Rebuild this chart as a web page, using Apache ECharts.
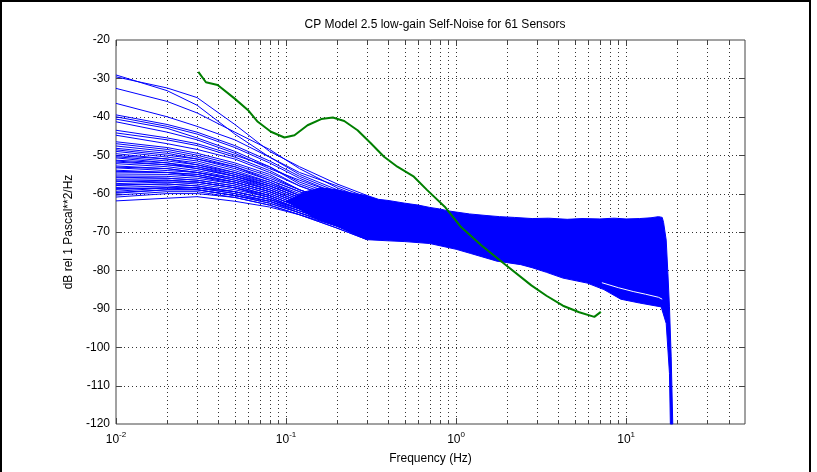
<!DOCTYPE html>
<html><head><meta charset="utf-8">
<script src="https://cdn.jsdelivr.net/npm/echarts@6/dist/echarts.min.js"></script>
<style>html,body{margin:0;padding:0;background:#fff}#c{width:817px;height:472px}</style>
</head><body><div id="c"></div>
<script>
// ---- axis ticks ----
const majorFreqs = [0.01, 0.1, 1, 10];
const minorFreqs = [0.02,0.03,0.04,0.05,0.06,0.07,0.08,0.09,
                    0.2,0.3,0.4,0.5,0.6,0.7,0.8,0.9,
                    2,3,4,5,6,7,8,9,20,30,40];
const yGridValues = [-110,-100,-90,-80,-70,-60,-50,-40,-30];

// ---- green curve (reference) ----
const greenFreq = [0.0305,0.0338,0.0396,0.0497,0.0596,0.0682,0.0815,0.0978,0.1121,0.1338,0.1609,0.1883,0.2199,0.2633,0.3151,0.377,0.4512,0.5646,0.6762,0.857,1.07,1.4,1.91,2.77,3.4,4.25,5.3,6.5,7.1];
const greenDb   = [-28.3,-31.0,-31.7,-35.2,-38.2,-41.3,-43.9,-45.4,-44.8,-42.2,-40.6,-40.2,-41.1,-43.5,-46.9,-50.4,-53.0,-55.6,-59.1,-63.4,-68.7,-73.4,-78.2,-83.9,-86.6,-89.2,-90.9,-92.1,-90.8];

// ---- blue sensor curves, low-frequency part ----
const sensorFreq = [0.01, 0.02, 0.03, 0.05, 0.08, 0.12, 0.2, 0.3];
const sensorDb = [
[-29.1,-33.2,-37.0,-44.5,-50.5,-54.5,-58.0,-61.0],
[-29.6,-32.5,-35.0,-42.0,-49.0,-53.0,-57.5,-60.5],
[-32.6,-36.0,-39.0,-44.0,-48.5,-53.5,-58.5,-61.5],
[-36.5,-40.0,-42.5,-46.0,-50.5,-55.0,-59.0,-62.0],
[-39.5,-42.0,-44.0,-47.5,-51.5,-55.5,-59.5,-62.5],
[-40.0,-42.5,-44.5,-48.0,-52.0,-56.0,-60.0,-63.0],
[-40.6,-43.0,-45.5,-49.0,-53.0,-57.0,-60.5,-63.5],
[-41.3,-44.0,-46.0,-49.5,-53.5,-56.5,-60.0,-63.0],
[-43.5,-45.5,-47.0,-50.0,-53.0,-57.5,-61.0,-64.0],
[-44.2,-46.0,-47.5,-50.5,-54.0,-58.0,-61.5,-64.5],
[-44.8,-47.0,-48.5,-51.0,-54.5,-58.0,-61.5,-65.0],
[-46.5,-48.0,-49.5,-52.0,-55.0,-59.0,-62.5,-66.0],
[-47.0,-48.5,-50.0,-52.5,-55.5,-59.0,-62.5,-66.0],
[-47.6,-49.0,-50.5,-53.0,-56.0,-59.0,-62.5,-66.0],
[-48.2,-49.5,-51.0,-53.0,-56.5,-59.5,-63.0,-66.5],
[-48.6,-50.0,-51.0,-53.5,-56.5,-59.5,-63.0,-66.5],
[-49.0,-50.5,-51.5,-54.0,-57.0,-60.0,-63.0,-66.5],
[-49.6,-51.0,-52.0,-54.5,-57.0,-60.5,-63.5,-67.0],
[-50.1,-51.0,-52.5,-54.5,-57.5,-60.5,-63.5,-67.0],
[-50.4,-51.5,-52.5,-55.0,-57.5,-60.5,-64.0,-67.0],
[-50.7,-52.0,-53.0,-55.0,-58.0,-61.0,-64.0,-67.5],
[-51.3,-52.0,-53.5,-55.5,-58.0,-61.0,-64.0,-67.5],
[-51.5,-52.5,-53.0,-55.5,-58.0,-61.0,-64.0,-67.5],
[-51.8,-52.5,-53.5,-55.5,-58.5,-61.5,-64.5,-68.0],
[-52.2,-53.0,-54.0,-56.0,-58.5,-61.5,-64.5,-68.0],
[-52.8,-53.5,-54.5,-56.0,-59.0,-62.0,-65.0,-68.5],
[-53.1,-53.5,-54.5,-56.5,-59.0,-62.0,-65.0,-68.5],
[-53.3,-54.0,-54.5,-56.5,-59.0,-62.0,-65.0,-68.5],
[-53.9,-54.5,-55.0,-57.0,-59.5,-62.5,-65.5,-69.0],
[-54.2,-54.5,-55.0,-57.0,-59.5,-62.5,-65.5,-69.0],
[-54.4,-54.5,-55.5,-57.0,-59.5,-62.5,-65.5,-69.0],
[-54.9,-55.0,-55.5,-57.5,-60.0,-63.0,-66.0,-69.5],
[-55.4,-55.5,-56.0,-57.5,-60.0,-63.0,-66.0,-69.5],
[-55.7,-56.0,-56.5,-58.0,-60.5,-63.5,-66.5,-70.0],
[-55.9,-56.0,-56.5,-58.0,-60.5,-63.5,-66.5,-70.0],
[-56.4,-56.5,-57.0,-58.5,-60.5,-63.5,-66.5,-70.0],
[-56.7,-57.0,-57.0,-58.5,-61.0,-64.0,-67.0,-70.5],
[-56.9,-56.5,-57.0,-58.5,-61.0,-64.0,-67.0,-70.5],
[-57.4,-57.0,-57.5,-59.0,-61.0,-64.0,-67.0,-70.5],
[-57.7,-57.5,-58.0,-59.5,-61.5,-64.0,-67.5,-71.0],
[-57.9,-57.5,-58.0,-59.5,-61.5,-64.0,-67.5,-71.0],
[-58.4,-58.0,-58.5,-59.5,-61.5,-64.5,-67.5,-71.0],
[-58.7,-58.5,-58.5,-60.0,-62.0,-64.5,-68.0,-71.0],
[-58.9,-58.5,-58.5,-60.0,-62.0,-64.5,-68.0,-71.0],
[-59.4,-58.5,-59.0,-60.5,-62.0,-65.0,-68.0,-71.5],
[-59.7,-59.0,-59.0,-60.5,-62.5,-65.0,-68.5,-71.5],
[-59.9,-59.0,-59.0,-60.5,-62.5,-65.0,-68.5,-71.5],
[-60.4,-59.5,-59.5,-61.0,-63.0,-65.5,-68.5,-72.0],
[-60.9,-60.0,-60.0,-61.0,-63.0,-65.5,-69.0,-72.0],
[-61.9,-61.2,-60.8,-62.0,-63.5,-65.5,-69.0,-72.0]
];

// ---- dense blue band (envelope of all 61 sensors) ----
const bandUpperFreq = [0.1,0.13,0.16,0.2,0.25,0.3,0.35,0.4,0.5,0.6,0.7,0.8,0.9,1.0,1.2,1.5,1.8,2.2,2.8,3.5,4.5,5.5,7,8.5,10,12,14,15.5,16.3,16.6,17.2,17.6,17.98,18.4,18.8];
const bandUpperDb   = [-62.0,-59.5,-58.5,-59.0,-60.0,-60.5,-61.5,-61.8,-62.5,-63.0,-63.6,-64.0,-64.5,-64.8,-65.3,-65.7,-66.0,-66.2,-66.5,-66.4,-66.7,-66.5,-66.6,-66.4,-66.6,-66.5,-66.3,-66.0,-66.2,-67.5,-72.1,-80.8,-89.5,-102.5,-120];
const bandLowerFreq = [0.1,0.15,0.2,0.3,0.4,0.5,0.7,1.0,1.22,1.74,2.4,2.8,3.4,4.25,5.9,7.4,9.3,12,16.07,17.2,17.98,18.2];
const bandLowerDb   = [-62.0,-66.5,-68.5,-72.0,-72.3,-72.5,-73.0,-74.5,-75.6,-77.6,-78.5,-79.3,-80.5,-82.0,-83.3,-85.0,-87.5,-88.5,-89.5,-93.8,-106.8,-120];
const gapFreq = [7.2,9,11,13,15.5,16.3];
const gapDb   = [-83.2,-84.5,-85.5,-86.2,-87.0,-87.5];

const FONT = 'Liberation Sans, Arial, sans-serif';
const chart = echarts.init(document.getElementById('c'), null, {renderer:'canvas'});

function renderGrid(params, api) {
  const ch = [];
  const top = api.coord([1, -20])[1], bot = api.coord([1, -120])[1];
  const left = api.coord([0.01, -70])[0], right = api.coord([50, -70])[0];
  const dot = {stroke:'#333', lineWidth:1, lineDash:[1,3]};
  const tick = {stroke:'#444', lineWidth:1};
  majorFreqs.concat(minorFreqs).forEach(f => {
    const x = Math.round(api.coord([f, -70])[0]) + 0.5;
    const L = majorFreqs.indexOf(f) >= 0 ? 6 : 4;
    if (f > 0.01) ch.push({type:'line', shape:{x1:x,y1:top,x2:x,y2:bot}, style:dot});
    ch.push({type:'line', shape:{x1:x,y1:bot,x2:x,y2:bot-L}, style:tick});
    ch.push({type:'line', shape:{x1:x,y1:top,x2:x,y2:top+L}, style:tick});
  });
  yGridValues.forEach(v => {
    const y = Math.round(api.coord([1, v])[1]) + 0.5;
    ch.push({type:'line', shape:{x1:left,y1:y,x2:right,y2:y}, style:dot});
    ch.push({type:'line', shape:{x1:left,y1:y,x2:left+6,y2:y}, style:tick});
    ch.push({type:'line', shape:{x1:right,y1:y,x2:right-6,y2:y}, style:tick});
  });
  return {type:'group', children: ch, silent:true};
}

function renderBand(params, api) {
  const pts = [];
  for (let i = 0; i < bandUpperFreq.length; i++) pts.push(api.coord([bandUpperFreq[i], bandUpperDb[i]]));
  for (let i = bandLowerFreq.length - 1; i >= 0; i--) pts.push(api.coord([bandLowerFreq[i], bandLowerDb[i]]));
  return {type:'polygon', shape:{points:pts}, style:{fill:'#0000ff', stroke:'#0000ff', lineWidth:1}};
}

const series = [
  {type:'custom', renderItem: renderGrid, data:[[1,-70]], z:1, silent:true},
  {type:'custom', renderItem: renderBand, data:[[1,-70]], z:3, silent:true}
];
sensorDb.forEach(row => {
  series.push({type:'line', data: sensorFreq.map((f,i)=>[f,row[i]]), showSymbol:false,
    lineStyle:{color:'#0000ff', width:1}, z:4, silent:true});
});
series.push({type:'line', data: gapFreq.map((f,i)=>[f,gapDb[i]]), showSymbol:false,
  lineStyle:{color:'#ffffff', width:1}, z:5, silent:true});
series.push({type:'line', data: greenFreq.map((f,i)=>[f,greenDb[i]]), showSymbol:false,
  lineStyle:{color:'#007f00', width:2}, z:6, silent:true});

chart.setOption({
  animation:false,
  backgroundColor:'#fff',
  title:{text:'CP Model 2.5 low-gain Self-Noise for 61 Sensors', left:430, top:14, textAlign:'center',
    textStyle:{fontFamily:FONT, fontSize:12, fontWeight:'normal', color:'#000'}},
  grid:{left:116, top:40, right:72, bottom:48, show:true, borderColor:'#444', borderWidth:1, backgroundColor:'transparent'},
  xAxis:{type:'log', logBase:10, min:0.01, max:50,
    axisLine:{show:false}, axisTick:{show:false}, splitLine:{show:false}, minorTick:{show:false},
    axisLabel:{margin:7, color:'#000', fontFamily:FONT,
      formatter:function(v){ const e = Math.log10(v); const r = Math.round(e);
        if (Math.abs(e-r) < 1e-6) return '{b|10}{s|' + r + '}'; return ''; },
      rich:{b:{fontSize:12, fontFamily:FONT, color:'#000'}, s:{fontSize:8, fontFamily:FONT, color:'#000', padding:[0,0,9,0]}}},
    name:'Frequency (Hz)', nameLocation:'middle', nameGap:29,
    nameTextStyle:{fontFamily:FONT, fontSize:12, color:'#000'}},
  yAxis:{type:'value', min:-120, max:-20, interval:10,
    axisLine:{show:false}, axisTick:{show:false}, splitLine:{show:false},
    axisLabel:{margin:6, fontSize:12, color:'#000', fontFamily:FONT},
    name:'dB rel 1 Pascal**2/Hz', nameLocation:'middle', nameGap:37,
    nameTextStyle:{fontFamily:FONT, fontSize:12, color:'#000'}},
  graphic:[{type:'polyline', shape:{points:[[1,472],[1,1],[810,1],[810,472]]}, style:{stroke:'#000', lineWidth:2, fill:null}, silent:true}],
  series: series
});
</script></body></html>
